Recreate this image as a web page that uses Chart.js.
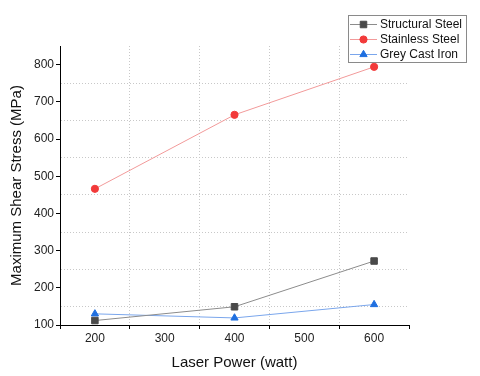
<!DOCTYPE html>
<html><head><meta charset="utf-8">
<script src="https://cdn.jsdelivr.net/npm/chart.js@4/dist/chart.umd.min.js"></script>
<style>html,body{margin:0;padding:0;background:#fff}#w{width:480px;height:376px}</style>
</head><body><div id="w"><canvas id="c" width="480" height="376"></canvas></div>
<script>
const laserPower = [200, 400, 600];
const structuralSteel = [112, 149, 272];
const stainlessSteel = [466, 665, 794];
const greyCastIron = [130, 119, 155];
const seriesNames = ['Structural Steel', 'Stainless Steel', 'Grey Cast Iron'];
const xTitle = 'Laser Power (watt)';
const yTitle = 'Maximum Shear Stress (MPa)';

const FONT = "'Liberation Sans', Arial, sans-serif";
const mk = (vals) => laserPower.map((x, i) => ({x, y: vals[i]}));

const datasets = [
  {label: seriesNames[0], data: mk(structuralSteel), borderColor: '#8c8c8c', backgroundColor: '#4a4a4a', pointBorderColor: '#4a4a4a', pointStyle: 'rect', pointRadius: 4.6},
  {label: seriesNames[1], data: mk(stainlessSteel), borderColor: '#f29a9a', backgroundColor: '#f23a3a', pointBorderColor: '#f23a3a', pointStyle: 'circle', pointRadius: 3.6},
  {label: seriesNames[2], data: mk(greyCastIron), borderColor: '#7aa6ec', backgroundColor: '#1f6fe0', pointBorderColor: '#1f6fe0', pointStyle: 'triangle', pointRadius: 4.2}
].map(d => Object.assign({borderWidth: 1, pointBorderWidth: 1, tension: 0, showLine: true}, d));

const legendPlugin = {
  id: 'customLegend',
  afterDraw(chart) {
    const ctx = chart.ctx;
    const x0 = 348, y0 = 15, w = 118, h = 47;
    ctx.save();
    ctx.setLineDash([]);
    ctx.strokeStyle = '#8a8a8a'; ctx.lineWidth = 1;
    ctx.fillStyle = '#fff';
    ctx.fillRect(x0 + 0.5, y0 + 0.5, w, h);
    ctx.strokeRect(x0 + 0.5, y0 + 0.5, w, h);
    ctx.font = '12px ' + FONT;
    ctx.textBaseline = 'middle';
    chart.data.datasets.forEach((ds, i) => {
      const cy = y0 + 9 + i * 15;
      ctx.strokeStyle = ds.borderColor; ctx.lineWidth = 1;
      ctx.beginPath(); ctx.moveTo(x0 + 2, cy + 0.5); ctx.lineTo(x0 + 29, cy + 0.5); ctx.stroke();
      ctx.fillStyle = ds.backgroundColor; ctx.strokeStyle = ds.pointBorderColor;
      ctx.beginPath();
      Chart.helpers.drawPoint(ctx, {pointStyle: ds.pointStyle, radius: ds.pointRadius, borderWidth: 1}, x0 + 15.5, cy + 0.5);
      ctx.fillStyle = '#111';
      ctx.fillText(ds.label, x0 + 32, cy + 1);
    });
    ctx.restore();
  }
};

const isHundred = v => Math.abs(v % 100) < 1e-6;
const GRID = '#c8c8c8';

new Chart(document.getElementById('c'), {
  type: 'scatter',
  data: {datasets},
  plugins: [legendPlugin],
  options: {
    responsive: false, animation: false, devicePixelRatio: 1,
    layout: {padding: {top: 46, right: 71, left: 0, bottom: 0}},
    plugins: {legend: {display: false}, tooltip: {enabled: false}},
    scales: {
      x: {
        type: 'linear', min: 150, max: 650,
        afterFit: s => { s.height = 51; },
        border: {color: '#000', width: 1, dash: [1, 2]},
        grid: {
          color: c => isHundred(c.tick.value) || c.tick.value === 150 || c.tick.value === 650 ? 'rgba(0,0,0,0)' : GRID,
          tickColor: c => isHundred(c.tick.value) ? 'rgba(0,0,0,0)' : '#000',
          tickLength: 4, lineWidth: 1, tickBorderDash: [0, 0]
        },
        ticks: {stepSize: 50, color: '#222', font: {family: FONT, size: 12}, padding: 2,
          autoSkip: false, maxRotation: 0,
          callback: v => isHundred(v) ? String(v) : ''},
        title: {display: true, text: xTitle, color: '#111', font: {family: FONT, size: 15}, padding: {top: 6}}
      },
      y: {
        type: 'linear', min: 100, max: 850,
        afterFit: s => { s.width = 60; },
        border: {color: '#000', width: 1, dash: [1, 2]},
        grid: {
          color: c => isHundred(c.tick.value) || c.tick.value === 850 ? 'rgba(0,0,0,0)' : GRID,
          tickColor: c => isHundred(c.tick.value) ? '#000' : 'rgba(0,0,0,0)',
          tickLength: 4, lineWidth: 1, tickBorderDash: [0, 0]
        },
        ticks: {stepSize: 50, color: '#222', font: {family: FONT, size: 12}, padding: 2,
          autoSkip: false,
          callback: v => isHundred(v) ? String(v) : ''},
        title: {display: true, text: yTitle, color: '#111', font: {family: FONT, size: 15}, padding: {top: 8, bottom: 0}}
      }
    }
  }
});
</script>
</body></html>
